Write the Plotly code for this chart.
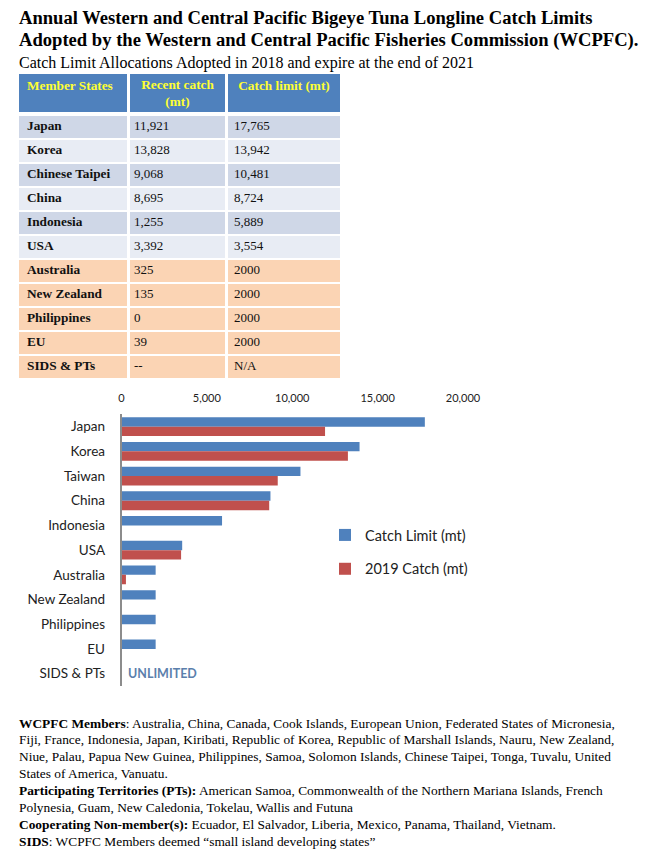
import plotly.graph_objects as go

# ---------------- data ----------------
table_members = ["Japan", "Korea", "Chinese Taipei", "China", "Indonesia", "USA",
                 "Australia", "New Zealand", "Philippines", "EU", "SIDS & PTs"]
table_recent_catch = ["11,921", "13,828", "9,068", "8,695", "1,255", "3,392",
                      "325", "135", "0", "39", "--"]
table_catch_limit = ["17,765", "13,942", "10,481", "8,724", "5,889", "3,554",
                     "2000", "2000", "2000", "2000", "N/A"]
table_headers = ["Member States", "Recent catch<br>(mt)", "Catch limit (mt)"]
# row shading group: 1 = dark blue-grey, 2 = light blue-grey, 3 = peach
table_row_group = [1, 2, 1, 2, 1, 2, 3, 3, 3, 3, 3]

chart_categories = ["Japan", "Korea", "Taiwan", "China", "Indonesia", "USA",
                    "Australia", "New Zealand", "Philippines", "EU", "SIDS & PTs"]
catch_limit_mt = [17765, 13942, 10481, 8724, 5889, 3554, 2000, 2000, 2000, 2000, None]
catch_2019_mt = [11921, 13260, 9150, 8650, 0, 3490, 260, 0, 0, 0, None]
x_tick_values = [0, 5000, 10000, 15000, 20000]
x_tick_labels = ["0", "5,000", "10,000", "15,000", "20,000"]

W, H = 662, 859
def py(p):
    return 1 - p / H
def px(p):
    return p / W

SERIF = "Liberation Serif, Times New Roman, serif"
SANS = "Lato, Open Sans, sans-serif"

fig = go.Figure()

# ---------------- table (heatmap bricks on their own axes) ----------------
TBL_TOP, TBL_LEFT = 73, 18
col_edges = [0, 110.5, 208.5, 323.5]
HEADER_H, SPACER_H, ROW_H = 40, 2, 24
row_edges = [0, HEADER_H, HEADER_H + SPACER_H]
for i in range(len(table_members)):
    row_edges.append(row_edges[-1] + ROW_H)
z = [[0, 0, 0], [None, None, None]] + [[g, g, g] for g in table_row_group]
tbl_h = row_edges[-1]
tbl_w = col_edges[-1]

fig.add_trace(go.Heatmap(
    x=col_edges, y=row_edges, z=z, xaxis="x2", yaxis="y2",
    zmin=0, zmax=3, showscale=False, xgap=3, ygap=2, hoverinfo="skip",
    colorscale=[[0, "#4f81bd"], [1 / 3, "#cfd7e7"], [2 / 3, "#e8ecf4"], [1, "#fbd4b4"]],
))

row_centers = [row_edges[2 + i] + ROW_H / 2 for i in range(len(table_members))]
fig.add_trace(go.Scatter(
    x=[9] * len(table_members), y=row_centers, mode="text",
    text=["<b>" + m + "</b>" for m in table_members], textposition="middle right",
    textfont=dict(family=SERIF, size=13.3, color="#111111"),
    xaxis="x2", yaxis="y2", hoverinfo="skip", showlegend=False, cliponaxis=False,
))
fig.add_trace(go.Scatter(
    x=[col_edges[1] + 5.5] * len(table_recent_catch), y=row_centers, mode="text",
    text=table_recent_catch, textposition="middle right",
    textfont=dict(family=SERIF, size=13, color="#111111"),
    xaxis="x2", yaxis="y2", hoverinfo="skip", showlegend=False, cliponaxis=False,
))
fig.add_trace(go.Scatter(
    x=[col_edges[2] + 7.5] * len(table_catch_limit), y=row_centers, mode="text",
    text=table_catch_limit, textposition="middle right",
    textfont=dict(family=SERIF, size=13, color="#111111"),
    xaxis="x2", yaxis="y2", hoverinfo="skip", showlegend=False, cliponaxis=False,
))
fig.add_trace(go.Scatter(
    x=[9, (col_edges[1] + col_edges[2]) / 2, (col_edges[2] + col_edges[3]) / 2],
    y=[13.7, 21.5, 13.7], mode="text",
    text=["<b>" + h + "</b>" for h in table_headers],
    textposition=["middle right", "middle center", "middle center"],
    textfont=dict(family=SERIF, size=13.3, color="#ffff33"),
    xaxis="x2", yaxis="y2", hoverinfo="skip", showlegend=False, cliponaxis=False,
))

# ---------------- bars ----------------
fig.add_trace(go.Bar(
    y=chart_categories, x=catch_limit_mt, orientation="h",
    name="Catch Limit (mt)", marker=dict(color="#4f81bd", line=dict(width=0)),
    legendgroup="a", hoverinfo="x+y",
))
fig.add_trace(go.Bar(
    y=chart_categories, x=catch_2019_mt, orientation="h",
    name="2019 Catch (mt)", marker=dict(color="#c0504d", line=dict(width=0)),
    legendgroup="b", hoverinfo="x+y",
))

fig.update_layout(
    width=W, height=H,
    margin=dict(l=0, r=0, t=0, b=0, autoexpand=False),
    paper_bgcolor="white", plot_bgcolor="white",
    barmode="group", bargap=0.24, bargroupgap=0,
    showlegend=True,
    legend=dict(x=px(325), y=py(519), xanchor="left", yanchor="top",
                font=dict(family=SANS, size=14.5, color="#222222"),
                traceorder="grouped", tracegroupgap=12,
                bgcolor="rgba(0,0,0,0)"),
    xaxis=dict(domain=[px(121.5), px(463)], range=[0, 20000], side="top",
               tickvals=x_tick_values, ticktext=x_tick_labels, automargin=False,
               showgrid=False, zeroline=False, showline=False, ticks="",
               ticklabelstandoff=9,
               tickfont=dict(family=SANS, size=11, color="#222222")),
    yaxis=dict(domain=[py(686), py(414.3)], autorange="reversed",
               type="category", automargin=False,
               showgrid=False, zeroline=False, showline=True,
               linecolor="#8c8c8c", linewidth=1.5, ticks="",
               ticklabelstandoff=12,
               tickfont=dict(family=SANS, size=13.5, color="#222222")),
    xaxis2=dict(domain=[px(TBL_LEFT), px(TBL_LEFT + tbl_w)], range=[0, tbl_w],
                visible=False, fixedrange=True, automargin=False),
    yaxis2=dict(domain=[py(TBL_TOP + tbl_h), py(TBL_TOP)], range=[tbl_h, 0],
                visible=False, fixedrange=True, automargin=False),
)

fig.add_annotation(x=0, y="SIDS & PTs", xref="x", yref="y", text="<b>UNLIMITED</b>",
                   showarrow=False, xanchor="left", yanchor="middle", xshift=4,
                   font=dict(family=SANS, size=12.5, color="#5b7fac"))

# ---------------- titles ----------------
title_lines = [
    ("<b>Annual Western and Central Pacific Bigeye Tuna Longline Catch Limits</b>", 18, 18.6),
    ("<b>Adopted by the Western and Central Pacific Fisheries Commission (WCPFC).</b>", 40, 18.6),
    ("Catch Limit Allocations Adopted in 2018 and expire at the end of 2021", 63, 16),
]
for txt, yy, sz in title_lines:
    fig.add_annotation(x=px(17), y=py(yy), xref="paper", yref="paper", text=txt,
                       showarrow=False, xanchor="left", yanchor="middle",
                       font=dict(family=SERIF, size=sz, color="black"))

# ---------------- footnotes ----------------
foot_lines = [
    "<b>WCPFC Members</b>: Australia, China, Canada, Cook Islands, European Union, Federated States of Micronesia,",
    "Fiji, France, Indonesia, Japan, Kiribati, Republic of Korea, Republic of Marshall Islands, Nauru, New Zealand,",
    "Niue, Palau, Papua New Guinea, Philippines, Samoa, Solomon Islands, Chinese Taipei, Tonga, Tuvalu, United",
    "States of America, Vanuatu.",
    "<b>Participating Territories (PTs):</b> American Samoa, Commonwealth of the Northern Mariana Islands, French",
    "Polynesia, Guam, New Caledonia, Tokelau, Wallis and Futuna",
    "<b>Cooperating Non-member(s):</b> Ecuador, El Salvador, Liberia, Mexico, Panama, Thailand, Vietnam.",
    "<b>SIDS</b>: WCPFC Members deemed \u201csmall island developing states\u201d",
]
for i, txt in enumerate(foot_lines):
    fig.add_annotation(x=px(17), y=py(723 + i * 16.9), xref="paper", yref="paper", text=txt,
                       showarrow=False, xanchor="left", yanchor="middle",
                       font=dict(family=SERIF, size=13.4, color="black"))

fig.write_html("out.html", config={"displayModeBar": False},
               post_script="document.body.style.margin='0px';")
